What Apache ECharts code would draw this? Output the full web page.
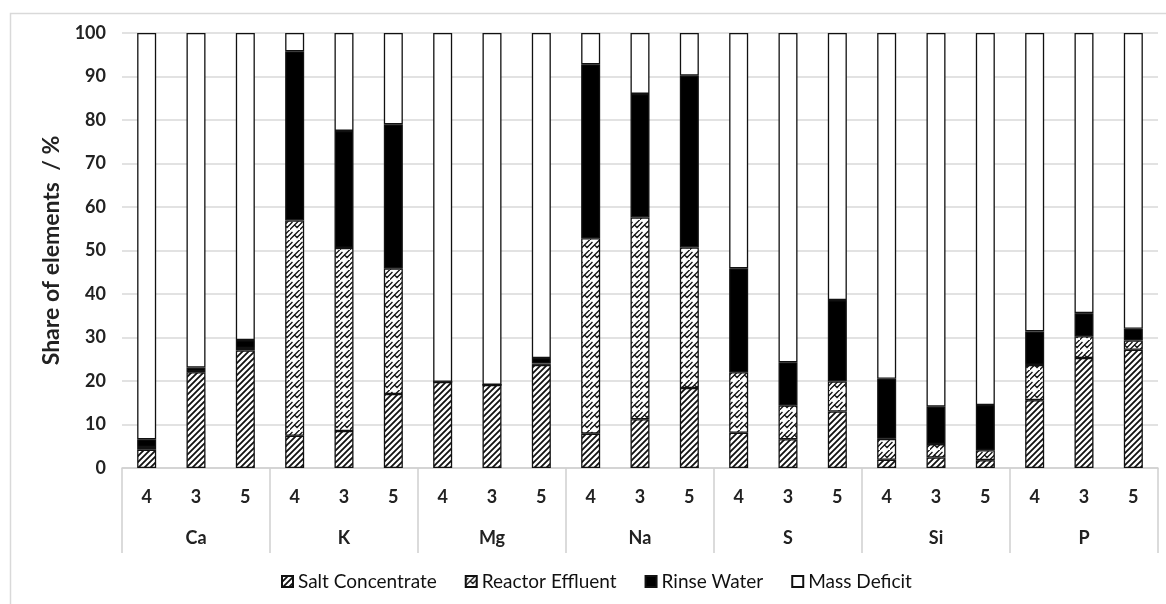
<!DOCTYPE html>
<html>
<head>
<meta charset="utf-8">
<script src="https://cdn.jsdelivr.net/npm/echarts@6/dist/echarts.min.js"></script>
<style>
  html, body { margin: 0; padding: 0; background: #fff; }
  #chart { width: 1166px; height: 604px; }
</style>
</head>
<body>
<div id="chart"></div>
<script>
// categories
const runs = ['4', '3', '5', '4', '3', '5', '4', '3', '5', '4', '3', '5', '4', '3', '5', '4', '3', '5', '4', '3', '5'];
const elements = ['Ca', 'K', 'Mg', 'Na', 'S', 'Si', 'P'];

// shares in %
const saltConcentrate = [4.2, 22.0, 27.0, 7.4, 8.5, 17.0, 19.8, 19.1, 23.7, 7.9, 11.2, 18.4, 8.1, 6.6, 13.0, 1.9, 2.4, 1.8, 15.6, 25.3, 27.2];
const reactorEffluent = [0.6, 0.3, 0.6, 49.5, 42.1, 28.9, 0, 0, 0.3, 44.9, 46.4, 32.3, 13.9, 7.8, 6.9, 4.8, 3.1, 2.3, 8.1, 5.0, 2.1];
const rinseWater = [1.8, 0.8, 1.8, 38.9, 26.9, 33.1, 0, 0, 1.3, 40.0, 28.4, 39.5, 23.9, 9.9, 18.7, 13.8, 8.6, 10.4, 7.7, 5.3, 2.7];
const massDeficit = [93.4, 76.9, 70.6, 4.2, 22.5, 21.0, 80.2, 80.9, 74.7, 7.2, 14.0, 9.8, 54.1, 75.7, 61.4, 79.5, 85.9, 85.5, 68.6, 64.4, 68.0];

const yTicks = { min: 0, max: 100, interval: 10 };

function hatchPattern() {
  const c = document.createElement('canvas');
  c.width = 6; c.height = 6;
  const g = c.getContext('2d');
  g.fillStyle = '#fff';
  g.fillRect(0, 0, 6, 6);
  g.strokeStyle = '#111';
  g.lineWidth = 1.8;
  g.beginPath();
  g.moveTo(-1, 7); g.lineTo(7, -1);
  g.moveTo(-4, 4); g.lineTo(4, -4);
  g.moveTo(2, 10); g.lineTo(10, 2);
  g.stroke();
  return { image: c, repeat: 'repeat' };
}

// zig-zag "shingle" fill used for the reactor effluent
function shinglePattern() {
  const c = document.createElement('canvas');
  c.width = 10; c.height = 10;
  const g = c.getContext('2d');
  g.fillStyle = '#fff';
  g.fillRect(0, 0, 10, 10);
  g.strokeStyle = '#111';
  g.lineWidth = 1.3;
  g.lineCap = 'square';
  g.beginPath();
  g.moveTo(0, 9.5); g.lineTo(4.5, 5); g.lineTo(7, 7.5);
  g.moveTo(7, 7.5); g.lineTo(10, 4.5);
  g.moveTo(5, 4.5); g.lineTo(9.5, 0);
  g.moveTo(0, 4.5); g.lineTo(2, 2.5);
  g.stroke();
  return { image: c, repeat: 'repeat' };
}

const font = 'Lato, "Open Sans", sans-serif';
const border = { borderColor: '#111', borderWidth: 1.3 };

function barSeries(name, data, color) {
  return {
    name: name,
    type: 'bar',
    stack: 'total',
    barWidth: 19,
    data: data,
    itemStyle: Object.assign({ color: color }, border),
    emphasis: { disabled: true }
  };
}

const option = {
  backgroundColor: '#fff',
  animation: false,
  graphic: [{
    type: 'rect',
    left: 8, top: 11,
    shape: { width: 1175, height: 610 },
    style: { fill: 'none', stroke: '#d9d9d9', lineWidth: 1.5 },
    silent: true
  }],
  grid: { left: 122, right: 8, top: 33, bottom: 136 },
  legend: {
    left: 276,
    top: 567,
    icon: 'rect',
    itemWidth: 11,
    itemHeight: 11,
    itemGap: 28,
    textStyle: { fontFamily: font, fontSize: 19, color: '#111' },
    data: ['Salt Concentrate', 'Reactor Effluent', 'Rinse Water', 'Mass Deficit']
  },
  xAxis: [
    {
      type: 'category',
      data: runs,
      position: 'bottom',
      axisLine: { lineStyle: { color: '#d0d0d0', width: 1.5 } },
      axisTick: { show: false },
      axisLabel: { margin: 20, fontFamily: font, fontWeight: 'bold', fontSize: 18, color: '#222' }
    },
    {
      type: 'category',
      data: elements,
      position: 'bottom',
      axisLine: { show: false },
      axisTick: { show: true, length: 85, lineStyle: { color: '#d0d0d0', width: 1.5 } },
      axisLabel: { margin: 61, fontFamily: font, fontWeight: 'bold', fontSize: 18, color: '#222' },
      splitLine: { show: false }
    }
  ],
  yAxis: {
    type: 'value',
    min: yTicks.min,
    max: yTicks.max,
    interval: yTicks.interval,
    name: 'Share of elements  / %',
    nameLocation: 'middle',
    nameGap: 59,
    nameTextStyle: { fontFamily: font, fontWeight: 'bold', fontSize: 23, color: '#222' },
    axisLine: { show: false },
    axisTick: { show: false },
    axisLabel: { margin: 16, fontFamily: font, fontWeight: 'bold', fontSize: 18, color: '#222' },
    splitLine: { lineStyle: { color: '#d9d9d9', width: 1.5 } }
  },
  series: [
    barSeries('Salt Concentrate', saltConcentrate, hatchPattern()),
    barSeries('Reactor Effluent', reactorEffluent, shinglePattern()),
    barSeries('Rinse Water', rinseWater, '#000'),
    barSeries('Mass Deficit', massDeficit, '#fff')
  ]
};

const chart = echarts.init(document.getElementById('chart'));
chart.setOption(option);
</script>
</body>
</html>
